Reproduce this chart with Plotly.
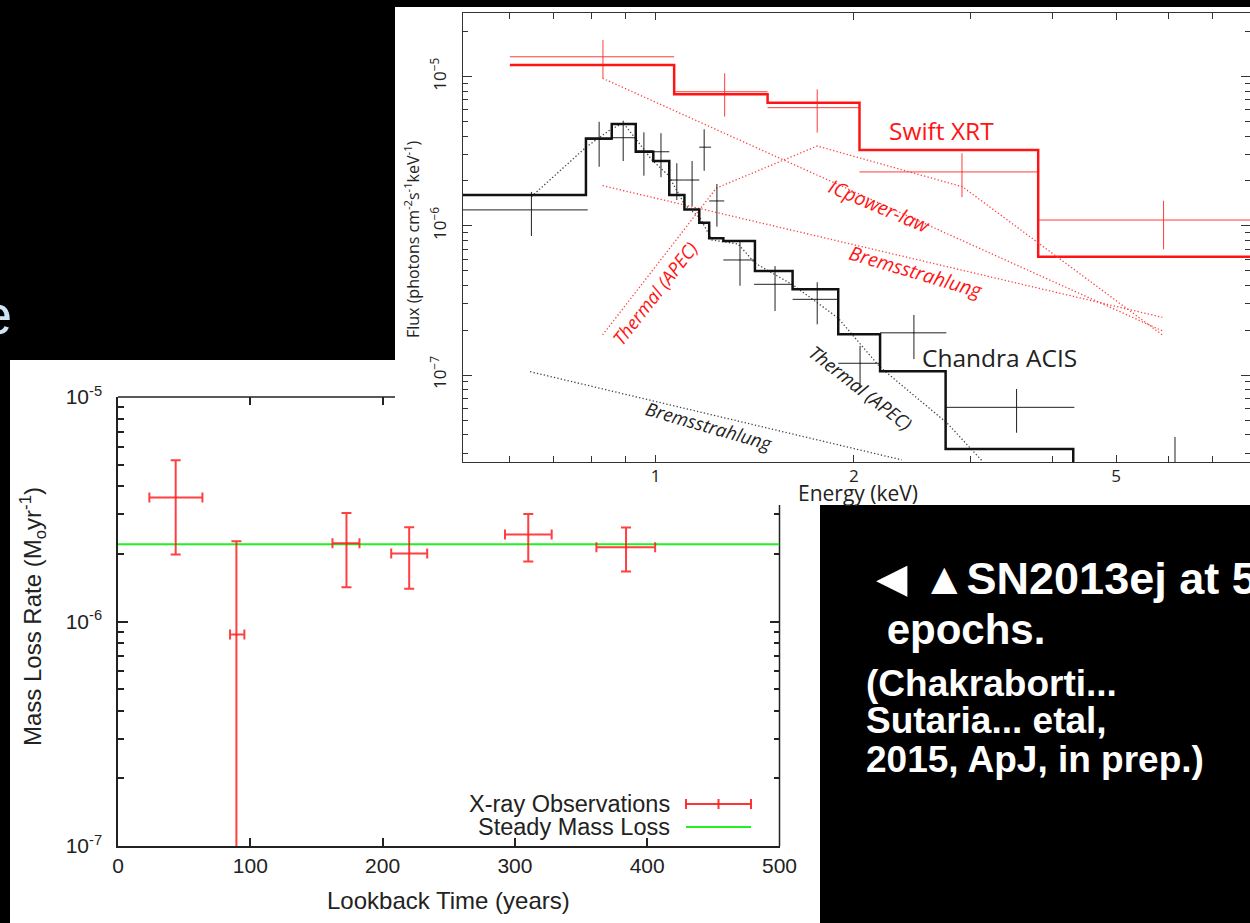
import numpy as np
import plotly.graph_objects as go

W, H = 1250, 923

# ---------------- X-ray spectrum: Chandra ACIS + Swift XRT ----------------
# Chandra folded model (step levels between bin edges, keV / photons cm^-2 s^-1 keV^-1)
chandra_model_edges = [0.50, 0.784, 0.858, 0.933, 0.992, 1.049, 1.106, 1.165, 1.206,
                       1.267, 1.415, 1.614, 1.893, 2.191, 2.755, 4.303, 8.0]
chandra_model_flux = [1.61e-6, 3.86e-6, 4.82e-6, 3.14e-6, 2.72e-6, 1.61e-6, 1.29e-6,
                      1.05e-6, 8.26e-7, 7.93e-7, 4.99e-7, 3.76e-7, 1.88e-7, 1.06e-7,
                      3.20e-8, 1.0e-9]

# Chandra binned data
chandra_e = [0.648, 0.821, 0.893, 0.960, 1.019, 1.077, 1.136, 1.185, 1.239, 1.343,
             1.518, 1.759, 2.043, 2.466, 3.53, 6.14]
chandra_e_lo = [0.508, 0.784, 0.858, 0.933, 0.992, 1.049, 1.106, 1.165, 1.206, 1.267,
                1.411, 1.614, 1.893, 2.191, 2.755, 4.32]
chandra_e_hi = [0.789, 0.858, 0.933, 0.992, 1.049, 1.106, 1.165, 1.214, 1.271, 1.415,
                1.614, 1.893, 2.191, 2.762, 4.32, 8.0]
chandra_flux = [1.28e-6, 3.80e-6, 3.90e-6, 3.18e-6, 3.14e-6, 2.03e-6, 2.03e-6, 3.37e-6,
                1.47e-6, 5.91e-7, 4.06e-7, 3.22e-7, 1.20e-7, 1.92e-7, 6.08e-8, 1.8e-8]
chandra_flux_hi = [1.69e-6, 4.99e-6, 5.07e-6, 4.24e-6, 4.18e-6, 2.63e-6, 2.72e-6, 4.44e-6,
                   1.91e-6, 7.83e-7, 5.38e-7, 4.19e-7, 1.57e-7, 2.53e-7, 8.07e-8, 3.85e-8]
chandra_flux_lo = [8.55e-7, 2.49e-6, 2.72e-6, 2.17e-6, 2.12e-6, 1.49e-6, 1.36e-6, 2.34e-6,
                   9.89e-7, 3.97e-7, 2.69e-7, 2.19e-7, 8.15e-8, 1.28e-7, 4.11e-8, 1.0e-8]

# Chandra model components
chandra_apec_e = [0.648, 0.786, 0.853, 0.893, 0.936, 0.987, 1.045, 1.108, 1.168, 1.218,
                  1.334, 1.415, 1.616, 1.891, 2.191, 2.768, 3.14]
chandra_apec_flux = [1.57e-6, 3.40e-6, 4.40e-6, 4.90e-6, 3.77e-6, 2.77e-6, 2.19e-6, 1.38e-6,
                     1.13e-6, 8.04e-7, 7.57e-7, 5.64e-7, 4.02e-7, 2.42e-7, 1.13e-7, 4.78e-8,
                     2.62e-8]
chandra_brems_e = [0.645, 2.364]
chandra_brems_flux = [1.054e-7, 2.70e-8]

# Swift XRT folded model and data
swift_model_edges = [0.601, 1.067, 1.479, 2.039, 3.807, 8.0]
swift_model_flux = [1.198e-5, 7.62e-6, 6.70e-6, 3.23e-6, 6.22e-7]
swift_e = [0.832, 1.273, 1.759, 2.917, 5.90]
swift_e_lo = [0.601, 1.067, 1.479, 2.039, 3.807]
swift_e_hi = [1.067, 1.479, 2.039, 3.807, 8.0]
swift_flux = [1.36e-5, 7.93e-6, 6.20e-6, 2.30e-6, 1.095e-6]
swift_flux_hi = [1.76e-5, 1.054e-5, 8.23e-6, 3.07e-6, 1.475e-6]
swift_flux_lo = [9.76e-6, 5.40e-6, 4.22e-6, 1.56e-6, 6.97e-7]

# Swift model components
ic_pl_e = [0.831, 5.875]
ic_pl_flux = [9.76e-6, 1.98e-7]
swift_brems_e = [0.831, 5.875]
swift_brems_flux = [1.86e-6, 2.44e-7]
swift_apec_e = [0.831, 1.236, 1.759, 2.922, 5.875]
swift_apec_flux = [1.86e-7, 1.79e-6, 3.43e-6, 1.83e-6, 1.86e-7]

# ---------------- Mass-loss history ----------------
lookback_yr = [43.6, 89.5, 172.7, 220.1, 310.1, 384.0]
lookback_lo = [23.7, 84.7, 162.1, 206.5, 292.5, 361.6]
lookback_hi = [63.8, 95.5, 182.5, 233.7, 327.8, 406.0]
mdot = [3.57e-6, 8.75e-7, 2.23e-6, 2.01e-6, 2.44e-6, 2.14e-6]
mdot_hi = [5.23e-6, 2.28e-6, 3.04e-6, 2.63e-6, 3.01e-6, 2.62e-6]
mdot_lo = [1.99e-6, 1.0e-8, 1.42e-6, 1.40e-6, 1.85e-6, 1.67e-6]
steady_mdot = 2.21e-6
lookback_span = [0, 500]


def fx(px):
    return px / W


def fy(py):
    return 1 - py / H


def steps(edges, levels):
    return list(edges), list(levels) + [levels[-1]]


def cross(x, xlo, xhi, y, ylo, yhi):
    x, xlo, xhi = map(np.asarray, (x, xlo, xhi))
    y, ylo, yhi = map(np.asarray, (y, ylo, yhi))
    return (dict(type="data", symmetric=False, array=xhi - x, arrayminus=x - xlo),
            dict(type="data", symmetric=False, array=yhi - y, arrayminus=y - ylo))


RED = "#ff1414"
RED_DATA = "#ff3c3c"
RED_DOT = "#ff4040"
BLK = "#111111"
GREEN = "#22f022"
DOTS = "1.3px,2.2px"
UP_FONT = "Open Sans"
LO_FONT = "Liberation Sans"

fig = go.Figure()

# ---- spectrum panel (x2/y2) ----
ex, ey = cross(swift_e, swift_e_lo, swift_e_hi, swift_flux, swift_flux_lo, swift_flux_hi)
fig.add_trace(go.Scatter(x=swift_e, y=swift_flux, mode="markers", xaxis="x2", yaxis="y2",
                         marker=dict(size=1, color=RED_DATA),
                         error_x=dict(ex, width=0, thickness=1, color=RED_DATA),
                         error_y=dict(ey, width=0, thickness=1, color=RED_DATA)))
sx, sy = steps(swift_model_edges, swift_model_flux)
fig.add_trace(go.Scatter(x=sx, y=sy, mode="lines", line=dict(color=RED, width=2.5, shape="hv"),
                         xaxis="x2", yaxis="y2"))
for e, f in [(ic_pl_e, ic_pl_flux), (swift_brems_e, swift_brems_flux),
             (swift_apec_e, swift_apec_flux)]:
    fig.add_trace(go.Scatter(x=e, y=f, mode="lines", xaxis="x2", yaxis="y2",
                             line=dict(color=RED_DOT, width=1.3, dash=DOTS)))

for e, f in [(chandra_apec_e, chandra_apec_flux), (chandra_brems_e, chandra_brems_flux)]:
    fig.add_trace(go.Scatter(x=e, y=f, mode="lines", xaxis="x2", yaxis="y2",
                             line=dict(color="#444444", width=1.3, dash=DOTS)))
ex, ey = cross(chandra_e, chandra_e_lo, chandra_e_hi, chandra_flux, chandra_flux_lo, chandra_flux_hi)
fig.add_trace(go.Scatter(x=chandra_e, y=chandra_flux, mode="markers", xaxis="x2", yaxis="y2",
                         marker=dict(size=1, color="#222222"),
                         error_x=dict(ex, width=0, thickness=1, color="#222222"),
                         error_y=dict(ey, width=0, thickness=1, color="#222222")))
cx, cy = steps(chandra_model_edges, chandra_model_flux)
fig.add_trace(go.Scatter(x=cx, y=cy, mode="lines", line=dict(color=BLK, width=2.5, shape="hv"),
                         xaxis="x2", yaxis="y2"))

# ---- mass-loss panel (x/y) ----
fig.add_trace(go.Scatter(x=lookback_span, y=[steady_mdot] * 2, mode="lines",
                         line=dict(color=GREEN, width=2), xaxis="x", yaxis="y"))
ex, ey = cross(lookback_yr, lookback_lo, lookback_hi, mdot, mdot_lo, mdot_hi)
fig.add_trace(go.Scatter(x=lookback_yr, y=mdot, mode="markers", xaxis="x", yaxis="y",
                         marker=dict(size=1, color="#ff2a2a"),
                         error_x=dict(ex, width=5, thickness=2, color="rgba(255,30,30,0.85)"),
                         error_y=dict(ey, width=5, thickness=2, color="rgba(255,30,30,0.85)")))
# empty traces so the mirrored tick axes are drawn
fig.add_trace(go.Scatter(x=[], y=[], xaxis="x3", yaxis="y", showlegend=False))
fig.add_trace(go.Scatter(x=[], y=[], xaxis="x", yaxis="y3", showlegend=False))

# ---- axes ----
lo_x_dom = [fx(118), fx(779.5)]
lo_y_dom = [fy(846), fy(397)]


def dec_minor(exps):
    return [m * 10.0 ** k for k in exps for m in range(2, 10)]


fig.update_layout(
    xaxis=dict(domain=lo_x_dom, range=[0, 500], anchor="y", showgrid=False, zeroline=False,
               showline=True, linecolor="#222", linewidth=1.5, ticks="inside", ticklen=8,
               tickcolor="#222", tickwidth=1.5, automargin=False,
               tickvals=[0, 100, 200, 300, 400, 500], ticktext=["0", "100", "200", "300", "400", "500"],
               tickfont=dict(family=LO_FONT, size=21, color="#222"), ticklabelstandoff=0),
    yaxis=dict(domain=lo_y_dom, type="log", range=[-7, -5], anchor="x", showgrid=False,
               zeroline=False, showline=True, linecolor="#222", linewidth=1.5, automargin=False,
               ticks="inside", ticklen=10, tickcolor="#222", tickwidth=1.5,
               tickvals=[1e-7, 1e-6, 1e-5],
               ticktext=["10<sup>-7</sup>", "10<sup>-6</sup>", "10<sup>-5</sup>"],
               tickfont=dict(family=LO_FONT, size=21, color="#222"), ticklabelstandoff=10,
               minor=dict(ticks="inside", ticklen=6, tickcolor="#222", tickwidth=1.5,
                          tickvals=dec_minor([-7, -6]))),
    xaxis3=dict(overlaying="x", side="top", anchor="y", range=[0, 500], showgrid=False,
                zeroline=False, showline=False, ticks="inside", ticklen=8, tickcolor="#222",
                tickwidth=1.5, tickvals=[100, 200], showticklabels=False, automargin=False),
    yaxis3=dict(overlaying="y", side="right", anchor="x", type="log", range=[-7, -5],
                showgrid=False, zeroline=False, showline=False, ticks="inside", ticklen=10,
                tickcolor="#222", tickwidth=1.5, tickvals=[1e-6], showticklabels=False,
                automargin=False,
                minor=dict(ticks="inside", ticklen=6, tickcolor="#222", tickwidth=1.5,
                           tickvals=dec_minor([-7]) + [2e-6, 3e-6])),
    xaxis2=dict(domain=[fx(462.5), 1.0], type="log", range=[-0.293, 0.902], anchor="y2",
                showgrid=False, zeroline=False, showline=True, linecolor="#333", linewidth=1,
                mirror="ticks", ticks="inside", ticklen=7, tickcolor="#333", automargin=False,
                tickvals=[1, 2, 5], ticktext=["1", "2", "5"],
                tickfont=dict(family=UP_FONT, size=17, color="#222"), ticklabelstandoff=-2,
                minor=dict(ticks="inside", ticklen=6, tickcolor="#333",
                           tickvals=[0.6, 0.7, 0.8, 0.9, 3, 4, 6, 7, 8])),
    yaxis2=dict(domain=[fy(462.3), fy(12.7)], type="log", range=[-7.5845, -4.571], anchor="x2",
                showgrid=False, zeroline=False, showline=True, linecolor="#333", linewidth=1,
                mirror="ticks", ticks="inside", ticklen=9, tickcolor="#333", automargin=False,
                tickvals=[1e-7, 1e-6, 1e-5],
                ticktext=["10<sup>\u22127</sup>", "10<sup>\u22126</sup>", "10<sup>\u22125</sup>"],
                tickangle=-90, tickfont=dict(family=UP_FONT, size=17, color="#222"),
                ticklabelstandoff=9,
                minor=dict(ticks="inside", ticklen=5, tickcolor="#333",
                           tickvals=dec_minor([-8, -7, -6]) + [2e-5])),
)

# ---- panels and frame pieces ----
shapes = [
    dict(type="rect", xref="paper", yref="paper", x0=fx(10), x1=fx(820), y0=0, y1=fy(360),
         fillcolor="white", line=dict(width=0), layer="below"),
    dict(type="rect", xref="paper", yref="paper", x0=fx(395), x1=1, y0=fy(505), y1=fy(7),
         fillcolor="white", line=dict(width=0), layer="below"),
    dict(type="line", xref="paper", yref="paper", x0=fx(118), x1=fx(395), y0=fy(397), y1=fy(397),
         line=dict(color="#222", width=1.5), layer="below"),
    dict(type="line", xref="paper", yref="paper", x0=fx(779.5), x1=fx(779.5), y0=fy(505), y1=fy(846),
         line=dict(color="#222", width=1.5), layer="below"),
    # legend keys
    dict(type="line", xref="paper", yref="paper", x0=fx(686), x1=fx(751), y0=fy(804), y1=fy(804),
         line=dict(color="rgba(255,30,30,0.9)", width=2)),
    dict(type="line", xref="paper", yref="paper", x0=fx(686), x1=fx(751), y0=fy(827), y1=fy(827),
         line=dict(color=GREEN, width=2)),
]
for kx in (686, 718.5, 751):
    shapes.append(dict(type="line", xref="paper", yref="paper", x0=fx(kx), x1=fx(kx),
                       y0=fy(799), y1=fy(809), line=dict(color="rgba(255,30,30,0.9)", width=2)))

ann = []


def label(text, px, py, size, color="#222", family=UP_FONT, angle=0, xanchor="center"):
    ann.append(dict(text=text, x=fx(px), y=fy(py), xref="paper", yref="paper", showarrow=False,
                    xanchor=xanchor, yanchor="middle", textangle=angle,
                    font=dict(family=family, size=size, color=color)))


# spectrum panel text
label("Energy (keV)", 858, 493, 21)
label("Flux (photons cm<sup>-2</sup>s<sup>-1</sup>keV<sup>-1</sup>)", 412, 239, 16, angle=-90)
label("Swift XRT", 941, 130, 24.5, color=RED)
label("Chandra ACIS", 999, 357, 24.5, color="#222")
label("<i>ICpower-law</i>", 879, 205, 19.5, color=RED, angle=23)
label("<i>Bremsstrahlung</i>", 916, 272, 19.5, color=RED, angle=16.5)
label("<i>Thermal (APEC)</i>", 654, 293, 18.5, color=RED, angle=-52)
label("<i>Thermal (APEC)</i>", 861, 387, 18.5, color="#222", angle=38)
label("<i>Bremsstrahlung</i>", 709, 425, 18.5, color="#222", angle=16)

# mass-loss panel text
label("Lookback Time (years)", 448, 900, 24, family=LO_FONT)
label("Mass Loss Rate (M<sub>o</sub>yr<sup>-1</sup>)", 33, 617, 24, family=LO_FONT, angle=-90)
label("X-ray Observations", 672, 804, 23.5, family=LO_FONT, xanchor="right")
label("Steady Mass Loss", 672, 827, 23.5, family=LO_FONT, xanchor="right")

# slide text
BOLD = "Liberation Sans"
label("<b>\u25c4</b>", 891, 578, 52, color="white", family=BOLD)
label("<b>\u25b2SN2013ej at 5</b>", 920, 578, 45, color="white", family=BOLD, xanchor="left")
label("<b> epochs.</b>", 873, 629, 42, color="white", family=BOLD, xanchor="left")
label("<b>(Chakraborti...</b>", 864, 683, 37, color="white", family=BOLD, xanchor="left")
label("<b>Sutaria... etal,</b>", 864, 720, 37, color="white", family=BOLD, xanchor="left")
label("<b>2015, ApJ, in prep.)</b>", 864, 759, 37, color="white", family=BOLD, xanchor="left")
label("e", 14, 314, 56, color="#cfe3f3", family=BOLD, xanchor="right")

fig.update_layout(width=W, height=H,
                  margin=dict(l=0, r=0, t=0, b=0, pad=0, autoexpand=False),
                  paper_bgcolor="black", plot_bgcolor="rgba(0,0,0,0)",
                  showlegend=False, shapes=shapes, annotations=ann)

fig.write_html("out.html",
               post_script="document.body.style.margin='0';document.body.style.overflow='hidden';")
